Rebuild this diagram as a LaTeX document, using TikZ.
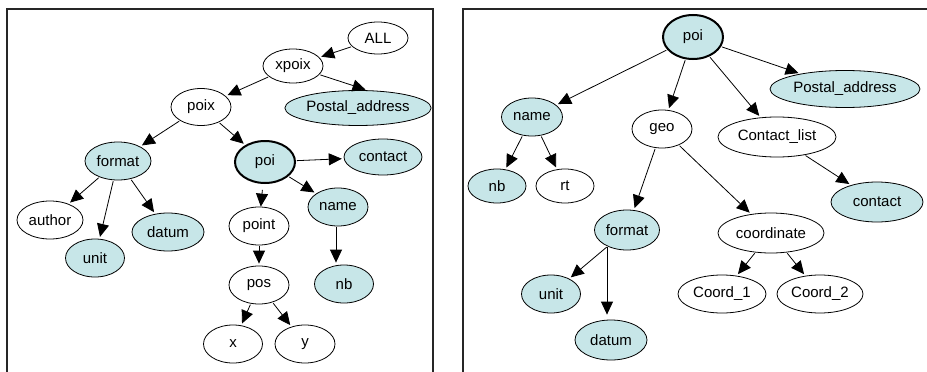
\documentclass[tikz,border=0pt]{standalone}
\usepackage{fontspec}
\setmainfont{Liberation Sans}
\usetikzlibrary{arrows.meta,shapes.geometric}

\definecolor{attblue}{RGB}{199,230,232}
\tikzset{
  ent/.style={draw, ellipse, line width=0.8pt, inner sep=0pt, minimum width=60pt, minimum height=38pt, font=\fontsize{15}{18}\selectfont},
  att/.style={ent, fill=attblue},
  key/.style={line width=2pt},
  arr/.style={-{Triangle[length=13pt,width=12pt]}, line width=0.8pt, shorten >=2pt, shorten <=1pt},
  frame/.style={line width=1.5pt, black!85}
}

\begin{document}
\begin{tikzpicture}[x=1pt, y=-1pt] % one unit is one pixel of the picture
	\useasboundingbox (0,0) rectangle (927,372);
	% Panel frames (open at the bottom)
	\draw[frame] (7,372) -- (7,9) -- (433,9) -- (433,372);
	\draw[frame] (463,372) -- (463,9) -- (927,9);

	% Left tree
	\node[ent, minimum height=32pt] (all) at (378,38) {ALL};
	\node[ent, minimum height=34pt] (xpoix) at (293,66) {xpoix};
	\node[ent, minimum height=37pt] (poix) at (201,107) {poix};
	\node[att, minimum width=138pt, minimum height=35pt] (pa1) at (358,108) {Postal\_address};
	\node[att, minimum width=66pt] (fmt1) at (118,161) {format};
	\node[att, key, minimum height=42pt] (poi1) at (265,162) {poi};
	\node[att, minimum width=78pt, minimum height=36pt] (ct1) at (383,157) {contact};
	\node[ent, minimum width=66pt] (author) at (50,220) {author};
	\node[att, minimum width=59pt] (unit1) at (95,258) {unit};
	\node[att, minimum width=72pt] (datum1) at (168,232) {datum};
	\node[ent] (point) at (259,226) {point};
	\node[att] (name1) at (338,207) {name};
	\node[ent] (pos) at (259,285) {pos};
	\node[att, minimum width=59pt] (nb1) at (344,284) {nb};
	\node[ent, minimum width=59pt] (px) at (233,344) {x};
	\node[ent] (py) at (305,344) {y};

	\foreach \a/\b in {all/xpoix, xpoix/poix, poix/fmt1, poix/poi1, poi1/ct1,
		poi1/name1, fmt1/author, fmt1/unit1, fmt1/datum1, point/pos, pos/px, pos/py}
	\draw[arr] (\a) -- (\b);
	\draw[arr, shorten <=6pt, shorten >=0pt] (poi1) -- (point);
	\draw[arr] (xpoix) -- (pa1.62);
	\draw[arr] ([xshift=-2pt]name1.south) -- ([xshift=-8pt]nb1.north);

	% Right tree
	\node[att, key, minimum height=44pt] (poi2) at (693,37) {poi};
	\node[att, minimum width=150pt, minimum height=37pt] (pa2) at (845,89) {Postal\_address};
	\node[att, minimum width=61pt] (name2) at (532,117) {name};
	\node[ent] (geo) at (662,129) {geo};
	\node[ent, minimum width=118pt, minimum height=40pt] (clist) at (777,137) {Contact\_list};
	\node[att, minimum width=58pt, minimum height=34pt] (nb2) at (497,186) {nb};
	\node[ent, minimum width=58pt, minimum height=34pt] (rt) at (565,186) {rt};
	\node[att, minimum width=92pt, minimum height=40pt] (ct2) at (877,202) {contact};
	\node[att, minimum width=65pt, minimum height=40pt] (fmt2) at (627,230) {format};
	\node[ent, minimum width=106pt, minimum height=40pt] (coord) at (771,233) {coordinate};
	\node[att, minimum width=59pt] (unit2) at (551,294) {unit};
	\node[ent, minimum width=88pt] (c1) at (722,294) {Coord\_1};
	\node[ent, minimum width=86pt] (c2) at (820,294) {Coord\_2};
	\node[att, minimum width=72pt, minimum height=40pt] (datum2) at (611,340) {datum};

	\foreach \a/\b in {poi2/name2, poi2/geo, poi2/clist, poi2/pa2, name2/nb2, name2/rt,
		geo/fmt2, geo/coord, clist/ct2, fmt2/unit2, coord/c1, coord/c2}
	\draw[arr] (\a) -- (\b);
	\coordinate (dtop) at ([xshift=-4pt]datum2.north);
	\draw[arr, shorten >=5pt] (dtop |- fmt2.219) -- (dtop);
\end{tikzpicture}
\end{document}
